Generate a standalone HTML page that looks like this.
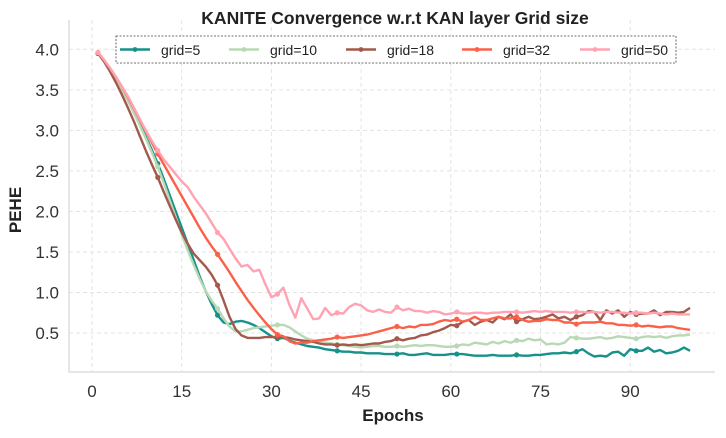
<!DOCTYPE html>
<html><head><meta charset="utf-8"><style>
body{margin:0;background:#fff;}
svg text{font-family:"Liberation Sans",sans-serif;}
</style></head><body>
<svg id="chart" width="726" height="433" viewBox="0 0 726 433" xmlns="http://www.w3.org/2000/svg">
<text x="395" y="24" text-anchor="middle" font-size="17.5" font-weight="bold" fill="#222">KANITE Convergence w.r.t KAN layer Grid size</text>
<g id="grid"></g>
<g id="axes"></g>
<g id="series"></g>
<text x="393" y="421" text-anchor="middle" font-size="17" font-weight="bold" fill="#222">Epochs</text>
<text transform="translate(21,210) rotate(-90)" text-anchor="middle" font-size="17" font-weight="bold" fill="#222">PEHE</text>
<g id="legend"></g>
</svg>
<script>
const seriesNames = ["grid=5","grid=10","grid=18","grid=32","grid=50"];
const seriesColors = ["#17918a","#b8d9b4","#a35a4c","#fb6148","#ffa3b3"];
const xTicks = [0,15,30,45,60,75,90];
const yTicks = [0.5,1.0,1.5,2.0,2.5,3.0,3.5,4.0];
const grid5 = [3.95,3.86,3.76,3.64,3.51,3.37,3.22,3.07,2.92,2.76,2.59,
2.40,2.20,2.00,1.80,1.60,1.40,1.20,1.02,0.86,0.72,
0.63,0.61,0.64,0.65,0.63,0.60,0.56,0.51,0.46,0.43,
0.44,0.41,0.38,0.36,0.34,0.33,0.32,0.30,0.29,0.28,
0.27,0.27,0.26,0.26,0.25,0.25,0.25,0.24,0.24,0.24,
0.25,0.23,0.23,0.24,0.25,0.23,0.23,0.23,0.24,0.24,
0.24,0.23,0.22,0.22,0.22,0.23,0.22,0.22,0.22,0.23,
0.22,0.22,0.23,0.23,0.24,0.25,0.25,0.26,0.25,0.27,
0.30,0.25,0.21,0.22,0.21,0.26,0.27,0.22,0.30,0.28,
0.28,0.32,0.27,0.29,0.25,0.26,0.28,0.32,0.28];
const grid10 = [3.95,3.86,3.76,3.64,3.51,3.37,3.22,3.06,2.90,2.73,2.55,
2.35,2.14,1.93,1.72,1.52,1.34,1.17,1.02,0.90,0.80,
0.68,0.58,0.52,0.52,0.54,0.56,0.57,0.58,0.59,0.60,
0.60,0.57,0.52,0.47,0.43,0.41,0.39,0.38,0.37,0.36,
0.35,0.34,0.33,0.32,0.33,0.34,0.34,0.33,0.33,0.34,
0.33,0.34,0.35,0.34,0.35,0.35,0.34,0.33,0.33,0.34,
0.36,0.35,0.38,0.37,0.36,0.39,0.37,0.40,0.38,0.41,
0.40,0.43,0.41,0.42,0.36,0.37,0.36,0.38,0.45,0.44,
0.43,0.43,0.44,0.45,0.43,0.44,0.46,0.45,0.44,0.43,
0.45,0.46,0.45,0.46,0.44,0.46,0.47,0.47,0.48];
const grid18 = [3.95,3.85,3.73,3.59,3.44,3.28,3.11,2.93,2.75,2.58,2.42,
2.24,2.07,1.90,1.74,1.60,1.48,1.40,1.32,1.22,1.09,
0.90,0.70,0.55,0.47,0.44,0.44,0.44,0.45,0.45,0.45,
0.45,0.44,0.42,0.41,0.40,0.39,0.37,0.36,0.36,0.35,
0.36,0.35,0.36,0.35,0.36,0.37,0.37,0.39,0.40,0.43,
0.41,0.43,0.44,0.47,0.48,0.51,0.53,0.56,0.60,0.59,
0.64,0.66,0.60,0.64,0.66,0.63,0.70,0.67,0.73,0.64,
0.67,0.70,0.67,0.68,0.70,0.73,0.68,0.70,0.66,0.70,
0.72,0.77,0.76,0.66,0.78,0.74,0.78,0.70,0.76,0.73,
0.74,0.74,0.78,0.72,0.76,0.76,0.75,0.76,0.81];
const grid32 = [3.96,3.87,3.77,3.66,3.54,3.41,3.27,3.13,2.99,2.85,2.71,
2.58,2.45,2.32,2.19,2.06,1.93,1.80,1.68,1.57,1.47,
1.36,1.25,1.13,1.02,0.91,0.81,0.72,0.63,0.55,0.48,
0.46,0.40,0.37,0.38,0.38,0.40,0.41,0.42,0.43,0.45,
0.44,0.45,0.46,0.47,0.48,0.50,0.52,0.54,0.56,0.58,
0.56,0.58,0.57,0.60,0.60,0.61,0.64,0.66,0.65,0.67,
0.64,0.66,0.70,0.66,0.66,0.68,0.70,0.68,0.68,0.70,
0.66,0.64,0.65,0.65,0.67,0.66,0.66,0.63,0.63,0.61,
0.63,0.63,0.63,0.64,0.62,0.62,0.60,0.60,0.59,0.60,
0.58,0.59,0.58,0.57,0.58,0.58,0.56,0.55,0.54];
const grid50 = [3.96,3.87,3.77,3.66,3.54,3.42,3.28,3.14,3.00,2.87,2.75,
2.64,2.55,2.46,2.37,2.30,2.18,2.08,1.98,1.86,1.74,
1.66,1.54,1.42,1.32,1.34,1.26,1.28,1.10,0.94,0.98,
1.06,0.85,0.69,0.93,0.80,0.67,0.68,0.81,0.72,0.75,
0.74,0.82,0.86,0.84,0.78,0.76,0.79,0.76,0.75,0.82,
0.78,0.80,0.77,0.77,0.75,0.77,0.76,0.73,0.74,0.76,
0.74,0.74,0.75,0.75,0.74,0.75,0.75,0.76,0.76,0.76,
0.75,0.76,0.77,0.76,0.77,0.76,0.76,0.76,0.75,0.76,
0.76,0.75,0.76,0.75,0.76,0.76,0.75,0.75,0.74,0.75,
0.75,0.74,0.75,0.74,0.73,0.74,0.73,0.73,0.73];
const allSeries = [grid5,grid10,grid18,grid32,grid50];

const NS="http://www.w3.org/2000/svg";
const X0=92, XS=5.98, Y4=49.3, YS=81.06;
function xScale(v){return X0+XS*v;}
function yScale(v){return Y4+(4.0-v)*YS;}
function mk(tag,attrs,parent){const e=document.createElementNS(NS,tag);for(const k in attrs)e.setAttribute(k,attrs[k]);parent.appendChild(e);return e;}
const gGrid=document.getElementById('grid'), gAxes=document.getElementById('axes'), gS=document.getElementById('series'), gL=document.getElementById('legend');
const plotLeft=69, plotRight=715, plotBottom=372, plotTop=20;
xTicks.forEach(t=>{
  const x=xScale(t);
  const l=mk('line',{x1:x,x2:x,y1:plotTop,y2:plotBottom,stroke:'#e3e3e3','stroke-width':1,'stroke-dasharray':'4,3'},gGrid);
  
  
  const tx=mk('text',{x:x,y:397,'text-anchor':'middle','font-size':17,fill:'#333'},gAxes);
  tx.textContent=t;
  
  
});
yTicks.forEach(t=>{
  const y=yScale(t);
  const l=mk('line',{x1:plotLeft,x2:plotRight,y1:y,y2:y,stroke:'#e3e3e3','stroke-width':1,'stroke-dasharray':'4,3'},gGrid);
  
  
  const tx=mk('text',{x:59,y:y+6,'text-anchor':'end','font-size':17,fill:'#333'},gAxes);
  tx.textContent=t.toFixed(1);
  
  
});
const ax=mk('path',{d:`M${plotLeft},${plotTop} V${plotBottom} H${plotRight}`,fill:'none',stroke:'#ddd','stroke-width':1.5},gAxes);


allSeries.forEach((arr,si)=>{
  const d=arr.map((v,i)=>(i?'L':'M')+xScale(i+1).toFixed(1)+','+yScale(v).toFixed(1)).join(' ');
  const p=mk('path',{d:d,fill:'none',stroke:seriesColors[si],'stroke-width':2.4,'stroke-linejoin':'round'},gS);
  
  
  arr.forEach((v,i)=>{ if(i%10===0){
    const c=mk('circle',{cx:xScale(i+1),cy:yScale(v),r:2.6,fill:seriesColors[si]},gS);
    
    
  }});
});
const box=mk('rect',{x:116,y:36,width:560,height:27,fill:'#fff',stroke:'#444','stroke-width':0.8,'stroke-dasharray':'2,1.5'},gL);


const legX=[120,229,346,462,580];
seriesNames.forEach((n,i)=>{
  const x=legX[i];
  const l=mk('line',{x1:x,x2:x+30,y1:49.5,y2:49.5,stroke:seriesColors[i],'stroke-width':2.4},gL);
  
  
  const c=mk('circle',{cx:x+15,cy:49.5,r:2.4,fill:seriesColors[i]},gL);
  
  
  const t=mk('text',{x:x+41,y:55,'font-size':14,fill:'#222'},gL);
  t.textContent=n;
  
  
});
</script>
</body></html>
